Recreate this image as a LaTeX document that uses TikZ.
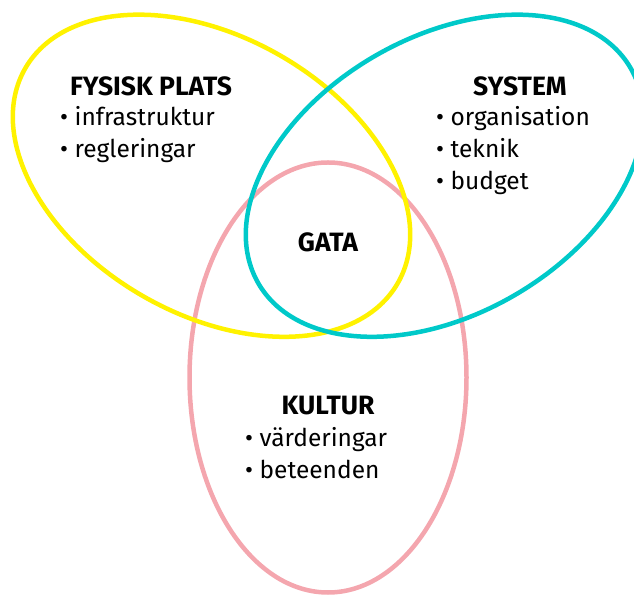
\documentclass[tikz,border=0pt]{standalone}
\usepackage{fontspec}
\setmainfont{Fira Sans}
\usetikzlibrary{positioning}
\definecolor{mYellow}{HTML}{FFF200}
\definecolor{mCyan}{HTML}{00C9C9}
\definecolor{mPink}{HTML}{F4A6AE}

\begin{document}
\begin{tikzpicture}[x=1pt, y=1pt,
      ring/.style={line width=4.5pt},
      head/.style={font=\fontsize{26.5}{30}\selectfont\bfseries, inner sep=0pt},
      items/.style={font=\fontsize{24.5}{32}\selectfont, align=left, inner sep=0pt, anchor=west}]
    \useasboundingbox (0,0) rectangle (634,594);
    % three rings, 120 degrees apart
    \draw[ring, mPink]   (328,216.5) ellipse [x radius=138.5, y radius=215];
    \draw[ring, mYellow, shift={(211.5,418.25)}, rotate=-30] (0,0) ellipse [x radius=215, y radius=138.5];
    \draw[ring, mCyan,   shift={(444.5,418.25)}, rotate=30]  (0,0) ellipse [x radius=215, y radius=138.5];
    % labels
    \node[head] (plats) at (151,508) {FYSISK PLATS};
    \node[items] (platslist) at (60,459.5) {• infrastruktur\\• regleringar};
    \node[head] (system) at (520,508) {SYSTEM};
    \node[items] (systemlist) at (436,443.5) {• organisation\\• teknik\\• budget};
    \node[head] (gata) at (328,352) {GATA};
    \node[head] (kultur) at (328,188) {KULTUR};
    \node[items] (kulturlist) at (245,141) {• värderingar\\• beteenden};
  \end{tikzpicture}
\end{document}
